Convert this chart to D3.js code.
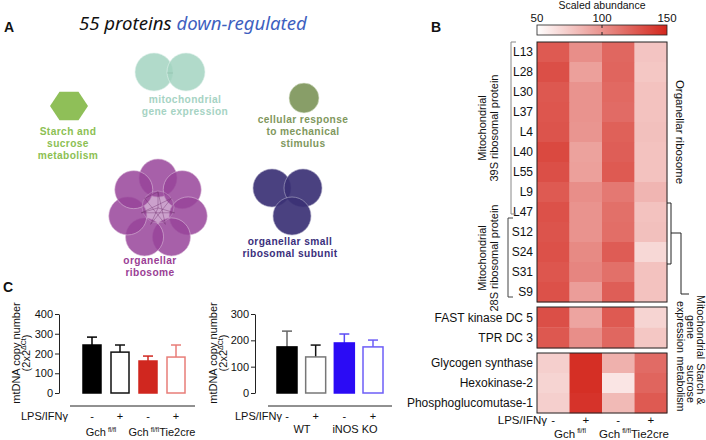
<!DOCTYPE html>
<html><head><meta charset="utf-8">
<script src="https://cdn.jsdelivr.net/npm/d3@7"></script>
<style>body{margin:0;background:#fff} svg{display:block}</style>
</head><body><svg id="c" width="706" height="440"></svg>
<script>
// ---------- DATA ----------
const titleParts = ["55 proteins ", "down-regulated"];
const clusterNames = [
  ["mitochondrial", "gene expression"],
  ["cellular response", "to mechanical", "stimulus"],
  ["Starch and", "sucrose", "metabolism"],
  ["organellar", "ribosome"],
  ["organellar small", "ribosomal subunit"]
];
const clusterNodeCounts = [2, 1, 1, 8, 3];

const heatColumns = ["Gch fl/fl -", "Gch fl/fl +", "Gch fl/fl Tie2cre -", "Gch fl/fl Tie2cre +"];
const lpsSigns = ["-", "+", "-", "+"];
const rows39S = ["L13","L28","L30","L37","L4","L40","L55","L9","L47"];
const rows28S = ["S12","S24","S31","S9"];
const rowsGeneExpr = ["FAST kinase DC 5","TPR DC 3"];
const rowsStarch = ["Glycogen synthase","Hexokinase-2","Phosphoglucomutase-1"];
const values39S = [
  [126,102,120,77],[131,94,121,76],[127,100,119,78],[128,100,118,78],
  [129,99,123,79],[134,93,124,78],[131,94,126,78],[126,102,112,84],[130,100,116,78]
];
const values28S = [[129,100,117,79],[130,104,125,68],[128,106,116,78],[130,95,124,78]];
const valuesGeneExpr = [[131,92,126,70],[127,102,120,76]];
const valuesStarch = [[72,146,86,118],[70,146,62,121],[72,144,82,126]];
const colorTicks = [50, 100, 150];

const gchBars = ["Gch fl/fl -", "Gch fl/fl +", "Tie2cre -", "Tie2cre +"];
const gchMeans = [243, 207, 162, 182];
const gchSem = [40, 36, 25, 61];
const gchTicks = [0, 100, 200, 300, 400];
const inosBars = ["WT -", "WT +", "iNOS KO -", "iNOS KO +"];
const inosMeans = [175, 137, 190, 175];
const inosSem = [60, 45, 34, 26];
const inosTicks = [0, 100, 200, 300];

// ---------- DRAW ----------
const svg = d3.select("#c");
const SANS = "'Liberation Sans', Arial, sans-serif";

function txt(g, x, y, s, o = {}) {
  const t = g.append("text").attr("x", x).attr("y", y).text(s)
    .attr("font-family", o.family || SANS).attr("font-size", o.size || 11)
    .attr("fill", o.fill || "#111").attr("text-anchor", o.anchor || "start");
  if (o.weight) t.attr("font-weight", o.weight);
  if (o.style) t.attr("font-style", o.style);
  if (o.ls) t.attr("letter-spacing", o.ls);
  if (o.rotate) t.attr("transform", `rotate(${o.rotate},${x},${y})`);
  return t;
}

// Panel letters
txt(svg, 4, 32, "A", {size: 14, weight: "bold"});
txt(svg, 431, 32, "B", {size: 14, weight: "bold"});
txt(svg, 3, 292, "C", {size: 14, weight: "bold"});

// ---------- Panel A ----------
const A = svg.append("g");
const tt = A.append("text").attr("x", 79).attr("y", 30)
  .attr("font-family", "'Noto Sans', 'Open Sans', sans-serif").attr("font-size", 18.6).attr("font-style", "italic");
tt.append("tspan").text(titleParts[0]).attr("fill", "#111");
tt.append("tspan").text(titleParts[1]).attr("fill", "#3e5fbf");

function label(lines, cx, y0, color) {
  lines.forEach((l, i) => txt(A, cx, y0 + i * 12, l, {anchor: "middle", size: 10.2, weight: "bold", fill: color, ls: 0.4}));
}
// mitochondrial gene expression: 2 circles
const mgeColor = "#a3d3c1";
d3.range(clusterNodeCounts[0]).forEach(i => {
  A.append("circle").attr("cx", 154 + i * 32).attr("cy", 72).attr("r", 19)
    .attr("fill", mgeColor).attr("fill-opacity", 0.85).attr("stroke", "#e2f2ec").attr("stroke-width", 0.6);
});
A.append("line").attr("x1", 167).attr("x2", 173).attr("y1", 73).attr("y2", 73).attr("stroke", "#8fbcaa").attr("stroke-width", 0.6);
label(clusterNames[0], 185, 103, "#a6d3c3");

// cellular response circle
A.append("circle").attr("cx", 304).attr("cy", 98).attr("r", 15)
  .attr("fill", "#889e68").attr("stroke", "#dde5d2").attr("stroke-width", 0.6);
label(clusterNames[1], 303, 123, "#7f985d");

// hexagon
const hex = d3.range(6).map(k => {
  const a = Math.PI / 3 * k;
  return [69 + 19 * Math.cos(a), 106 + 16.5 * Math.sin(a)];
});
A.append("polygon").attr("points", hex.map(p => p.join(",")).join(" ")).attr("fill", "#8fbf58");
label(clusterNames[2], 68, 135, "#8cbf53");

// organellar ribosome ring
const orCx = 158, orCy = 209;
const ringPts = d3.range(clusterNodeCounts[3] - 1).map(k => {
  const a = (-90 + k * 360 / 7) * Math.PI / 180;
  return [orCx + 31 * Math.cos(a), orCy + 31 * Math.sin(a)];
});
const allPts = [[orCx, orCy - 2]].concat(ringPts);
const edges = [[0,1],[0,3],[0,5],[1,4],[2,5],[3,6],[4,7],[6,2],[7,1],[0,6]];
ringPts.forEach((p) => {
  A.append("circle").attr("cx", p[0]).attr("cy", p[1]).attr("r", 19)
    .attr("fill", "#98449a").attr("fill-opacity", 0.85).attr("stroke", "#d8b8d6").attr("stroke-width", 0.6);
});
A.append("circle").attr("cx", orCx).attr("cy", orCy - 2).attr("r", 16)
  .attr("fill", "#98449a").attr("fill-opacity", 0.5).attr("stroke", "#c9a0c8").attr("stroke-width", 0.5);
edges.forEach(e => {
  const a = allPts[e[0]], b = allPts[e[1]];
  const f = 0.55;
  A.append("line").attr("x1", orCx + (a[0]-orCx)*f).attr("y1", orCy + (a[1]-orCy)*f)
    .attr("x2", orCx + (b[0]-orCx)*f).attr("y2", orCy + (b[1]-orCy)*f)
    .attr("stroke", "#6b2b6a").attr("stroke-opacity", 0.55).attr("stroke-width", 0.7);
});
label(clusterNames[3], 150, 264, "#9a3e95");

// organellar small ribosomal subunit
const ossPts = [[272, 188], [303, 188], [292, 216]];
ossPts.slice(0, clusterNodeCounts[4]).forEach(p => {
  A.append("circle").attr("cx", p[0]).attr("cy", p[1]).attr("r", 19)
    .attr("fill", "#3b3175").attr("fill-opacity", 0.92).attr("stroke", "#b0acc8").attr("stroke-width", 0.6);
});
label(clusterNames[4], 290, 245, "#3b2f7c");

// ---------- Panel B: heatmap ----------
const B = svg.append("g");
const color = d3.scaleLinear().domain([50, 150]).range(["#ffffff", "#d3261c"]).interpolate(d3.interpolateRgb);
const xH = d3.scaleBand().domain(heatColumns).range([537, 667]);

// colour bar
const defs = svg.append("defs");
const grad = defs.append("linearGradient").attr("id", "cb").attr("x1", "0%").attr("x2", "100%");
d3.range(0, 1.0001, 0.1).forEach(t => grad.append("stop").attr("offset", (t * 100) + "%").attr("stop-color", color(50 + 100 * t)));
const xC = d3.scaleLinear().domain([50, 150]).range([537, 667]);
B.append("rect").attr("x", 537).attr("y", 25).attr("width", 130).attr("height", 10)
  .attr("fill", "url(#cb)").attr("stroke", "#222").attr("stroke-width", 0.8);
colorTicks.forEach(v => txt(B, xC(v), 21.5, String(v), {anchor: "middle", size: 11.5}));
B.append("line").attr("x1", xC(100)).attr("x2", xC(100)).attr("y1", 25).attr("y2", 28).attr("stroke", "#222");
B.append("line").attr("x1", xC(100)).attr("x2", xC(100)).attr("y1", 32).attr("y2", 35).attr("stroke", "#222");
txt(B, 602, 8.5, "Scaled abundance", {anchor: "middle", size: 10.5});

function block(labels, vals, y0, y1) {
  const y = d3.scaleBand().domain(labels).range([y0, y1]);
  labels.forEach((lab, i) => {
    vals[i].forEach((v, j) => {
      B.append("rect").attr("x", xH(heatColumns[j])).attr("y", y(lab))
        .attr("width", xH.bandwidth() + 0.3).attr("height", y.bandwidth() + 0.3).attr("fill", color(v));
    });
    txt(B, 533, y(lab) + y.bandwidth() / 2 + 4.3, lab, {anchor: "end", size: 12});
  });
  B.append("rect").attr("x", 537).attr("y", y0).attr("width", 130).attr("height", y1 - y0)
    .attr("fill", "none").attr("stroke", "#222").attr("stroke-width", 1);
  return y;
}
block(rows39S.concat(rows28S), values39S.concat(values28S), 42, 302);
block(rowsGeneExpr, valuesGeneExpr, 307, 348);
block(rowsStarch, valuesStarch, 353, 413);

// left brackets
const br = B.append("g").attr("fill", "none").attr("stroke-width", 1);
br.append("path").attr("d", "M516,42 H511 V214 H516").attr("stroke", "#888");
br.append("path").attr("d", "M513,218 H508 V297 H513").attr("stroke", "#444");
[["Mitochondrial", "39S ribosomal protein", 128], ["Mitochondrial", "28S ribosomal protein", 258]].forEach(d => {
  txt(B, 486, d[2], d[0], {anchor: "middle", size: 11, rotate: -90});
  txt(B, 498, d[2], d[1], {anchor: "middle", size: 11, rotate: -90});
});

// right dendrogram
const dg = B.append("g").attr("fill", "none").attr("stroke", "#222").attr("stroke-width", 1);
dg.append("path").attr("d", "M667,203 H671 V264 H667");
dg.append("path").attr("d", "M671,233 H681 V294 H689");
txt(B, 676, 132, "Organellar ribosome", {anchor: "middle", size: 11.5, rotate: 90});
["Mitochondrial", "gene", "expression"].forEach((s, i) => txt(B, 697 - i * 10, 327, s, {anchor: "middle", size: 10.8, rotate: 90}));
["Starch &", "sucrose", "metabolism"].forEach((s, i) => txt(B, 697 - i * 10, 384, s, {anchor: "middle", size: 10.8, rotate: 90}));

// LPS row
txt(B, 547, 424, "LPS/IFNγ", {anchor: "end", size: 11.5});
heatColumns.forEach((c, j) => txt(B, xH(c) + xH.bandwidth() / 2, 424, lpsSigns[j], {anchor: "middle", size: 11.5}));
function gchLabel(g, x, y, extra, size) {
  const t = g.append("text").attr("x", x).attr("y", y).attr("text-anchor", "middle")
    .attr("font-family", SANS).attr("font-size", size).attr("fill", "#111");
  t.append("tspan").text("Gch");
  t.append("tspan").text("fl/fl").attr("font-size", size * 0.6).attr("dy", -size * 0.4).attr("dx", 2);
  if (extra) t.append("tspan").text(extra).attr("dy", size * 0.4);
  return t;
}
gchLabel(B, 570, 438, "", 11.5);
gchLabel(B, 634, 438, "Tie2cre", 11.5);

// ---------- Panel C ----------
function barChart(cfg) {
  const g = svg.append("g");
  const y = d3.scaleLinear().domain([0, cfg.ticks[cfg.ticks.length - 1]]).range([393, 314]);
  const x = d3.scalePoint().domain(cfg.bars).range(cfg.xr);
  g.append("g").attr("transform", `translate(${cfg.ax},0)`)
    .call(d3.axisLeft(y).tickValues(cfg.ticks).tickSize(4).tickSizeOuter(0))
    .call(a => a.select(".domain").attr("stroke", "#222"))
    .call(a => a.selectAll(".tick line").attr("stroke", "#222"))
    .call(a => a.selectAll(".tick text").attr("font-family", SANS).attr("font-size", 11).attr("fill", "#111").attr("dx", 1));
  cfg.bars.forEach((b, i) => {
    const cx = x(b), w = cfg.bw, v = cfg.means[i];
    const top = y(v + cfg.sem[i]);
    const ec = cfg.errColor[i];
    g.append("line").attr("x1", cx).attr("x2", cx).attr("y1", y(v)).attr("y2", top).attr("stroke", ec).attr("stroke-width", 1.5);
    g.append("line").attr("x1", cx - 5).attr("x2", cx + 5).attr("y1", top).attr("y2", top).attr("stroke", ec).attr("stroke-width", 1.5);
    g.append("rect").attr("x", cx - w / 2).attr("y", y(v)).attr("width", w).attr("height", y(0) - y(v))
      .attr("fill", cfg.fill[i]).attr("stroke", cfg.stroke[i]).attr("stroke-width", 1.5);
  });
  g.append("line").attr("x1", cfg.lx[0]).attr("x2", cfg.lx[1]).attr("y1", 406).attr("y2", 406).attr("stroke", "#222").attr("stroke-width", 1);
  txt(g, cfg.lpsX, 420, "LPS/IFNγ", {anchor: "end", size: 11});
  cfg.bars.forEach((b, i) => txt(g, x(b), 420, lpsSigns[i], {anchor: "middle", size: 11}));
  txt(g, cfg.ylx, 353, "mtDNA copy number", {anchor: "middle", size: 11, rotate: -90});
  const t2 = g.append("text").attr("x", cfg.ylx + 10).attr("y", 353).attr("text-anchor", "middle")
    .attr("font-family", SANS).attr("font-size", 11).attr("fill", "#111")
    .attr("transform", `rotate(-90,${cfg.ylx + 10},353)`);
  t2.append("tspan").text("(2x2");
  t2.append("tspan").text("ΔCt").attr("font-size", 7).attr("dy", -4);
  t2.append("tspan").text(")").attr("dy", 4);
  return {g, x};
}
const c1 = barChart({
  bars: gchBars, means: gchMeans, sem: gchSem, ticks: gchTicks, xr: [92, 176], bw: 18, ax: 59,
  fill: ["#000", "#fff", "#d0271f", "#fff"], stroke: ["#000", "#111", "#d0271f", "#e87d78"],
  errColor: ["#000", "#111", "#d0271f", "#e87d78"], lx: [70, 195], lpsX: 68, ylx: 20
});
gchLabel(c1.g, 101, 436, "", 11);
gchLabel(c1.g, 162, 436, "Tie2cre", 11);

const c2 = barChart({
  bars: inosBars, means: inosMeans, sem: inosSem, ticks: inosTicks, xr: [287, 373], bw: 20, ax: 255,
  fill: ["#000", "#fff", "#2b0bf5", "#fff"], stroke: ["#000", "#777", "#2b0bf5", "#6d5ef7"],
  errColor: ["#666", "#111", "#5b4cf5", "#6d5ef7"], lx: [268, 392], lpsX: 282, ylx: 217
});
txt(c2.g, 302, 433, "WT", {anchor: "middle", size: 11});
txt(c2.g, 355, 433, "iNOS KO", {anchor: "middle", size: 11});
</script></body></html>
